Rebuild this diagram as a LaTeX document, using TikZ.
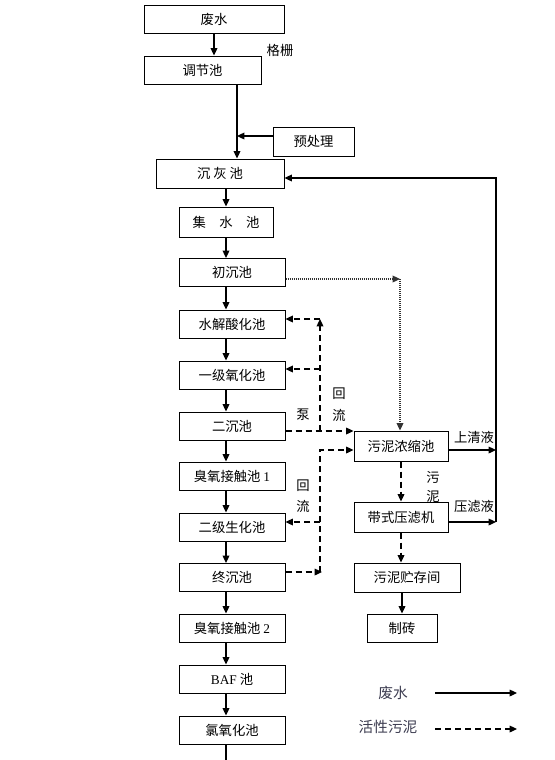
\documentclass[tikz,border=0pt]{standalone}
\usepackage{fontspec}
\setmainfont{Liberation Serif}
\newfontfamily\cjk{Noto Sans CJK SC}
\usetikzlibrary{arrows.meta}

\tikzset{every picture/.style={line width=0.75pt}}
\tikzset{
  box/.style={draw, inner sep=0pt, minimum width=79.5pt, minimum height=21pt, font=\cjk\fontsize{10}{12}\selectfont},
  tag/.style={inner sep=0.75pt, font=\cjk\fontsize{10}{12}\selectfont},
  keytext/.style={inner sep=0.75pt, text={rgb,255:red,60; green,60; blue,80}, font=\cjk\fontsize{11}{13}\selectfont},
  flow/.style={line width=0.9pt, -{Triangle[length=5.5pt,width=5pt]}},
  sludge/.style={flow, dash pattern={on 4.5pt off 3pt}},
  settle/.style={flow, color={rgb,255:red,50; green,50; blue,50}, dash pattern={on 0.8pt off 0.7pt}}
}

\begin{document}
\begin{tikzpicture}[x=0.75pt,y=0.75pt,yscale=-1,xscale=1]
    \useasboundingbox (0,0) rectangle (554,760); %set diagram height of 760

    %Shape: Rectangle [main line]
    \node [box, minimum width=105pt] (feishui) at (214,19) {废水};
    \node [box, minimum width=87.75pt] (tiaojie) at (202.5,70) {调节池};
    \node [box, minimum width=60.75pt, minimum height=21.75pt] (yuchuli) at (313.5,141.5) {预处理};
    \node [box, minimum width=96pt, minimum height=21.75pt] (chenhui) at (220,173.5) {沉\ 灰\ 池};
    \node [box, minimum width=70.5pt, minimum height=22.5pt] (jishui) at (226,222) {集\quad 水\quad 池};
    \node [box] (chuchen) at (232,272.5) {初沉池};
    \node [box] (shuijie) at (232,324) {水解酸化池};
    \node [box] (yiji) at (232,375) {一级氧化池};
    \node [box] (erchen) at (232,426) {二沉池};
    \node [box] (chouyangA) at (232,476) {臭氧接触池 {\rmfamily 1}};
    \node [box] (erji) at (232,527) {二级生化池};
    \node [box] (zhongchen) at (232,577.5) {终沉池};
    \node [box] (chouyangB) at (232,628) {臭氧接触池 {\rmfamily 2}};
    \node [box] (baf) at (232,679) {{\rmfamily BAF} 池};
    \node [box] (lvyang) at (232,730) {氯氧化池};

    %Shape: Rectangle [sludge line]
    \node [box, minimum width=70.5pt, minimum height=22.5pt] (nongsuo) at (401,446) {污泥浓缩池};
    \node [box, minimum width=70.5pt, minimum height=22.5pt] (yalv) at (401,517) {带式压滤机};
    \node [box, minimum height=21.75pt] (zhucun) at (407,577.5) {污泥贮存间};
    \node [box, minimum width=52.5pt] (zhizhuan) at (402,628) {制砖};

    %Coordinates for bends
    \coordinate (trunk) at (237,136);
    \coordinate (axis) at (226,0);
    \coordinate (outlet) at (226,760);
    \coordinate (rtop) at (496,178);
    \coordinate (clear) at (496,450);
    \coordinate (filtr) at (496,522);
    \coordinate (dotA) at (400,279);
    \coordinate (pumpA) at (320,431);
    \coordinate (pumpB) at (320,319);
    \coordinate (pumpC) at (320,369);
    \coordinate (backA) at (322,572);
    \coordinate (backB) at (320,450);
    \coordinate (backC) at (320,522);

    %Straight Lines [waste water]
    \draw [flow] (feishui.south) -- (feishui.south |- tiaojie.north);
    \draw [flow] (tiaojie.south -| trunk) -- (chenhui.north -| trunk);
    \draw [flow] (yuchuli.west |- trunk) -- (trunk);
    \draw [flow] (chenhui.south -| axis) -- (jishui.north -| axis);
    \draw [flow] (jishui.south -| axis) -- (chuchen.north -| axis);
    \draw [flow] (chuchen.south -| axis) -- (shuijie.north -| axis);
    \draw [flow] (shuijie.south -| axis) -- (yiji.north -| axis);
    \draw [flow] (yiji.south -| axis) -- (erchen.north -| axis);
    \draw [flow] (erchen.south -| axis) -- (chouyangA.north -| axis);
    \draw [flow] (chouyangA.south -| axis) -- (erji.north -| axis);
    \draw [flow] (erji.south -| axis) -- (zhongchen.north -| axis);
    \draw [flow] (zhongchen.south -| axis) -- (chouyangB.north -| axis);
    \draw [flow] (chouyangB.south -| axis) -- (baf.north -| axis);
    \draw [flow] (baf.south -| axis) -- (lvyang.north -| axis);
    \draw [line width=0.9pt] (lvyang.south -| axis) -- (outlet);

    %Straight Lines [return liquid]
    \draw [flow] (nongsuo.east |- clear) -- (clear);
    \draw [flow] (yalv.east |- filtr) -- (filtr);
    \draw [flow] (filtr) -- (rtop) -- (chenhui.east |- rtop);

    %Dotted Lines [primary sludge]
    \draw [settle] (chuchen.east |- dotA) -- (dotA);
    \draw [settle] (dotA) -- (nongsuo.north -| dotA);

    %Dashed Lines [pump return]
    \draw [sludge] (erchen.east |- pumpA) -- (pumpA) -- (nongsuo.west |- pumpA);
    \draw [sludge] (pumpA) -- (pumpB);
    \draw [sludge] (pumpB) -- (shuijie.east |- pumpB);
    \draw [sludge] (pumpC) -- (yiji.east |- pumpC);

    %Dashed Lines [final return]
    \draw [sludge] (zhongchen.east |- backA) -- (backA);
    \draw [sludge] (backA -| backB) -- (backB) -- (nongsuo.west |- backB);
    \draw [sludge] (backC) -- (erji.east |- backC);

    %Dashed Lines [sludge treatment]
    \draw [sludge] (nongsuo.south) -- (yalv.north);
    \draw [sludge] (yalv.south) -- (yalv.south |- zhucun.north);
    \draw [flow] (zhizhuan.north |- zhucun.south) -- (zhizhuan.north);

    % Text Node
    \node [tag] (gezha) at (280,50) {格栅};
    \node [tag] (beng) at (303,415) {泵};
    \node [tag] (huiA) at (339,394) {回};
    \node [tag] (liuA) at (339,415) {流};
    \node [tag] (huiB) at (303,486) {回};
    \node [tag] (liuB) at (303,506) {流};
    \node [tag] (shangqing) at (474,437) {上清液};
    \node [tag] (wu) at (433,477) {污};
    \node [tag] (ni) at (433,497) {泥};
    \node [tag] (yalvye) at (474,506) {压滤液};

    % Legend
    \node [keytext] (keyA) at (393,693) {废水};
    \node [keytext] (keyB) at (388,727) {活性污泥};
    \coordinate (keyAbeg) at (435,693);
    \coordinate (keyAend) at (517,693);
    \coordinate (keyBbeg) at (435,729);
    \coordinate (keyBend) at (517,729);
    \draw [flow] (keyAbeg) -- (keyAend);
    \draw [sludge] (keyBbeg) -- (keyBend);

\end{tikzpicture}
\end{document}
